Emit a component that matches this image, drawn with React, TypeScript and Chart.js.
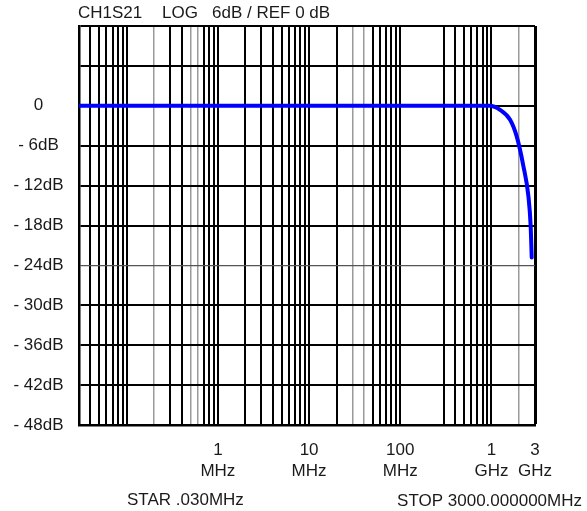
import React, { useEffect, useRef } from 'react';
import { Chart, registerables } from 'chart.js';

Chart.register(...registerables);

// ---- data ----
const freqMHz = [0.03, 1, 10, 100, 950, 1240, 1600, 1890, 2240, 2540, 2690, 2760];
const s21dB = [0, 0, 0, 0, 0, -0.6, -2.1, -4.6, -9.1, -13.6, -18.1, -22.8];

const gridFreqs = [
  0.03, 0.04, 0.05, 0.06, 0.07, 0.08, 0.09,
  0.1, 0.2, 0.3, 0.4, 0.5, 0.6, 0.7, 0.8, 0.9,
  1, 2, 3, 4, 5, 6, 7, 8, 9,
  10, 20, 30, 40, 50, 60, 70, 80, 90,
  100, 200, 300, 400, 500, 600, 700, 800, 900,
  1000, 2000, 3000,
];
const grayFreqs = [0.2, 0.5, 0.6, 30, 40, 2000];
const hiddenFreqs = [200];

const labelFreqs = [1, 10, 100, 1000, 3000];
const labelNumbers = ['1', '10', '100', '1', '3'];
const labelUnits = ['MHz', 'MHz', 'MHz', 'GHz', 'GHz'];

const dbMin = -48;
const dbMax = 12;
const dbStep = 6;

const titleParts = ['CH1S21', 'LOG', '6dB / REF 0 dB'];
const startText = 'STAR .030MHz';
const stopText = 'STOP 3000.000000MHz';

const FONT = "'Liberation Sans', Arial, sans-serif";
const TEXT_COLOR = '#1a1a1a';

const textPlugin = {
  id: 'analyzerText',
  afterDraw(chart: any) {
    const ctx = chart.ctx;
    const area = chart.chartArea;
    ctx.save();
    ctx.fillStyle = TEXT_COLOR;
    ctx.font = `17px ${FONT}`;
    ctx.textBaseline = 'alphabetic';
    ctx.textAlign = 'left';
    ctx.fillText(titleParts[0], area.left - 1, 17.5);
    ctx.fillText(titleParts[1], area.left + 83, 17.5);
    ctx.fillText(titleParts[2], area.left + 133, 17.5);
    ctx.fillText(startText, 127, 505);
    ctx.textAlign = 'right';
    ctx.fillText(stopText, 582, 506);
    ctx.restore();
  },
};

export default function App() {
  const canvasRef = useRef<HTMLCanvasElement | null>(null);

  useEffect(() => {
    if (!canvasRef.current) return;
    const points = freqMHz.map((f, i) => ({ x: f, y: s21dB[i] }));
    const chart = new Chart(canvasRef.current, {
      type: 'line',
      data: {
        datasets: [
          {
            data: points,
            borderColor: '#0000ff',
            borderWidth: 4,
            pointRadius: 0,
            cubicInterpolationMode: 'monotone',
            borderCapStyle: 'round',
            fill: false,
          },
        ],
      },
      plugins: [textPlugin],
      options: {
        animation: false,
        responsive: false,
        devicePixelRatio: 1,
        layout: { padding: { top: 26, right: 52, left: 0, bottom: 0 } },
        plugins: {
          legend: { display: false },
          tooltip: { enabled: false },
          title: { display: false },
        },
        scales: {
          x: {
            type: 'logarithmic',
            min: 0.03,
            max: 3000,
            afterBuildTicks: (scale: any) => {
              scale.ticks = gridFreqs.map((v) => ({ value: v }));
            },
            afterFit: (scale: any) => {
              scale.height = 86;
            },
            border: { display: true, color: '#000', width: 2.5 },
            grid: {
              drawTicks: false,
              color: (ctx: any) => {
                const v = ctx.tick ? ctx.tick.value : 0;
                if (hiddenFreqs.includes(v)) return 'rgba(0,0,0,0)';
                if (grayFreqs.includes(v)) return '#9a9a9a';
                return '#000';
              },
              lineWidth: (ctx: any) => {
                const v = ctx.tick ? ctx.tick.value : 0;
                if (v === 3000) return 3;
                if (grayFreqs.includes(v)) return 1.5;
                return 2;
              },
            },
            ticks: {
              autoSkip: false,
              maxRotation: 0,
              minRotation: 0,
              padding: 15,
              color: TEXT_COLOR,
              font: { family: FONT, size: 17, lineHeight: 1.235 },
              callback: (value: any) => {
                const i = labelFreqs.indexOf(Number(value));
                if (i < 0) return '';
                return [labelNumbers[i], labelUnits[i]];
              },
            },
          },
          y: {
            type: 'linear',
            min: dbMin,
            max: dbMax,
            afterFit: (scale: any) => {
              scale.width = 79;
            },
            border: { display: true, color: '#000', width: 2.5 },
            grid: {
              drawTicks: false,
              color: (ctx: any) => (ctx.tick && ctx.tick.value === -24 ? '#555' : '#000'),
              lineWidth: (ctx: any) => (ctx.tick && ctx.tick.value === -24 ? 1.2 : 2),
            },
            ticks: {
              stepSize: dbStep,
              crossAlign: 'center',
              padding: 15.5,
              color: TEXT_COLOR,
              font: { family: FONT, size: 17 },
              callback: (value: any) => {
                const v = Number(value);
                if (v === 0) return '0';
                if (v < 0) return '- ' + -v + 'dB';
                return '';
              },
            },
          },
        },
      },
    } as any);
    return () => chart.destroy();
  }, []);

  return (
    <div style={{ position: 'fixed', left: 0, top: 0, width: 587, height: 511, background: '#fff' }}>
      <canvas ref={canvasRef} width={587} height={511} />
    </div>
  );
}
